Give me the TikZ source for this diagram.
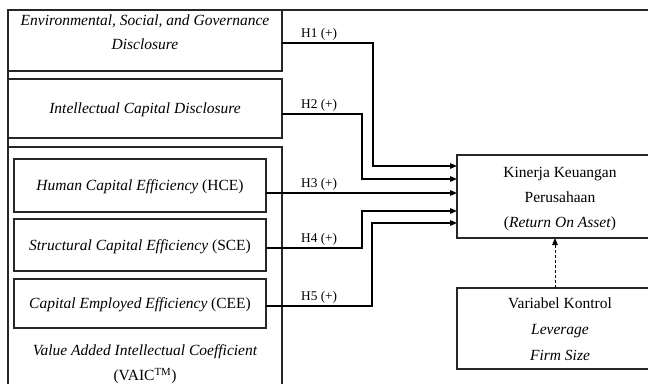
\documentclass[tikz,border=0pt]{standalone}
\usepackage{fontspec}
\setmainfont{Liberation Serif}
\usetikzlibrary{arrows.meta}
\begin{document}
\begin{tikzpicture}[x=1pt,y=-1pt,
  box/.style={draw=black!85,line width=1.2pt,inner sep=0pt,outer sep=0pt,rectangle},
  txt/.style={anchor=base,inner sep=0pt,font=\fontsize{15.5}{18}\selectfont},
  hlab/.style={anchor=base west,inner sep=0pt,font=\fontsize{13.3}{16}\selectfont},
  arr/.style={line width=1.2pt,-{Triangle[length=7pt,width=5.5pt]}},
  darr/.style={line width=0.9pt,dashed,dash pattern=on 3pt off 2pt,-{Triangle[length=7pt,width=5.5pt]}}]
\useasboundingbox (0,0) rectangle (648,383);
\clip (0,0) rectangle (648,383);
% outer frame
\draw[line width=1.2pt,draw=black!85] (8,400) -- (8,10) -- (660,10);
% left boxes
\node[box,minimum width=274pt,minimum height=61pt] (esg) at (145,40.5) {};
\node[box,minimum width=274pt,minimum height=59pt] (icd) at (145,108.5) {};
\node[box,minimum width=274pt,minimum height=273pt] (vaic) at (145,283.5) {};
\node[box,minimum width=252pt,minimum height=53pt] (hce) at (140,185.5) {};
\node[box,minimum width=252pt,minimum height=52pt] (sce) at (140,245) {};
\node[box,minimum width=252pt,minimum height=49pt] (cee) at (140,303.5) {};
% right boxes
\node[box,minimum width=206pt,minimum height=83pt] (kin) at (560,196.5) {};
\node[box,minimum width=206pt,minimum height=81pt] (ctrl) at (560,328.5) {};
% texts
\node[txt] (t1a) at (145,25) {\itshape Environmental, Social, and Governance};
\node[txt] (t1b) at (145,49.5) {\itshape Disclosure};
\node[txt] (t2) at (145,113.5) {\itshape Intellectual Capital Disclosure};
\node[txt] (t3) at (140,190.5) {\textit{Human Capital Efficiency} (HCE)};
\node[txt] (t4) at (140,250) {\textit{Structural Capital Efficiency} (SCE)};
\node[txt] (t5) at (140,308.5) {\textit{Capital Employed Efficiency} (CEE)};
\node[txt] (t6a) at (145,355) {\itshape Value Added Intellectual Coefficient};
\node[txt] (t6b) at (145,380.5) {(VAIC\textsuperscript{TM})};
\node[txt] (k1) at (560,177) {Kinerja Keuangan};
\node[txt] (k2) at (560,202) {Perusahaan};
\node[txt] (k3) at (560,227.5) {(\textit{Return On Asset})};
\node[txt] (c1) at (560,308) {Variabel Kontrol};
\node[txt] (c2) at (560,334) {\itshape Leverage};
\node[txt] (c3) at (560,360) {\itshape Firm Size};
% hypothesis labels
\node[hlab] (h1) at (301,37) {H1 (+)};
\node[hlab] (h2) at (301,108) {H2 (+)};
\node[hlab] (h3) at (301,187) {H3 (+)};
\node[hlab] (h4) at (301,242) {H4 (+)};
\node[hlab] (h5) at (301,300) {H5 (+)};
% connectors
\draw[arr] ([yshift=-2.5pt]esg.east) -- ++(91,0) |- ([yshift=30.5pt]kin.west);
\draw[arr] ([yshift=-5.5pt]icd.east) -- ++(80,0) |- ([yshift=17.5pt]kin.west);
\draw[arr] ([yshift=-7.5pt]hce.east) -- ([yshift=3.5pt]kin.west);
\draw[arr] ([yshift=-3pt]sce.east) -- ++(96,0) |- ([yshift=-14.5pt]kin.west);
\draw[arr] ([yshift=-2.5pt]cee.east) -- ++(106,0) |- ([yshift=-26.5pt]kin.west);
\draw[darr] ([xshift=-5pt]ctrl.north) -- ([xshift=-5pt]kin.south);
\end{tikzpicture}
\end{document}
